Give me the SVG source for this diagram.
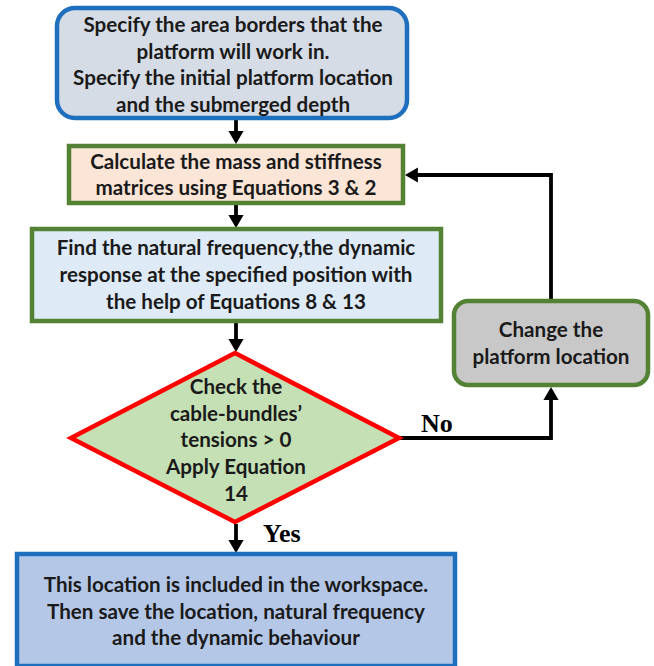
<svg xmlns="http://www.w3.org/2000/svg" width="654" height="666" viewBox="0 0 654 666">
<defs>
<marker id="ah" markerWidth="4" markerHeight="4" refX="2.6" refY="2" orient="auto" markerUnits="strokeWidth">
<path d="M0,0 L3.4,2 L0,4 z" fill="#000"/>
</marker>
<style>
.t{font-family:Lato,"Liberation Sans",sans-serif;font-weight:bold;font-size:20.6px;fill:#1a1a1a;text-anchor:middle}
.lbl{font-family:"Liberation Serif",serif;font-weight:bold;font-size:26px;fill:#000}
.c{fill:none;stroke:#000;stroke-width:3.8;marker-end:url(#ah)}
</style>
</defs>
<rect width="654" height="666" fill="#fff"/>
<g id="connectors">
<path class="c" d="M236,119 V141"/>
<path class="c" d="M236,204 V225"/>
<path class="c" d="M236,323 V349"/>
<path class="c" d="M236,524 V550"/>
<path class="c" d="M400,438 H551 V390"/>
<path class="c" d="M551,299 V175 H408"/>
<text class="lbl" x="421" y="432">No</text>
<text class="lbl" x="263" y="542">Yes</text>
</g>
<g id="start">
<rect x="57" y="8" width="350" height="110" rx="18" fill="#d6dce5" stroke="#1f6fbf" stroke-width="4.5"/>
<text class="t" x="233" y="32">Specify the area borders that the</text>
<text class="t" x="233" y="59">platform will work in.</text>
<text class="t" x="233" y="85">Specify the initial platform location</text>
<text class="t" x="233" y="112">and the submerged depth</text>
</g>
<g id="calc">
<rect x="69" y="146" width="334" height="57" fill="#fbe5d6" stroke="#548235" stroke-width="4.5"/>
<text class="t" x="236" y="169">Calculate the mass and stiffness</text>
<text class="t" x="236" y="195">matrices using Equations 3 &amp; 2</text>
</g>
<g id="find">
<rect x="32" y="229" width="409" height="92" fill="#deebf7" stroke="#548235" stroke-width="4.5"/>
<text class="t" x="236" y="255">Find the natural frequency,the dynamic</text>
<text class="t" x="236" y="282">response at the specified position with</text>
<text class="t" x="236" y="309">the help of Equations 8 &amp; 13</text>
</g>
<g id="check">
<polygon points="235,353 399,438 235,522 71,438" fill="#c5e0b4" stroke="#ff0000" stroke-width="4.5"/>
<text class="t" x="236" y="394">Check the</text>
<text class="t" x="236" y="421">cable-bundles’</text>
<text class="t" x="236" y="447">tensions &gt; 0</text>
<text class="t" x="236" y="474">Apply Equation</text>
<text class="t" x="236" y="501">14</text>
</g>
<g id="change">
<rect x="454" y="301" width="194" height="84" rx="14" fill="#c8c8c8" stroke="#548235" stroke-width="4.5"/>
<text class="t" x="551" y="337">Change the</text>
<text class="t" x="551" y="364">platform location</text>
</g>
<g id="result">
<rect x="17" y="554" width="438" height="112" fill="#b4c7e7" stroke="#1f6fbf" stroke-width="4.5"/>
<text class="t" x="236" y="592">This location is included in the workspace.</text>
<text class="t" x="236" y="619">Then save the location, natural frequency</text>
<text class="t" x="236" y="645">and the dynamic behaviour</text>
</g>
</svg>
